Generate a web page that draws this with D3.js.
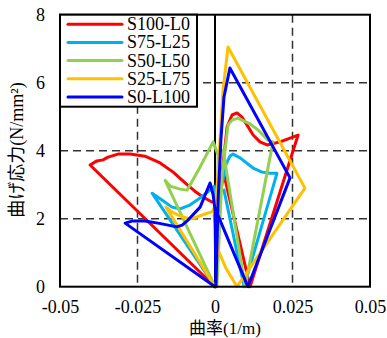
<!DOCTYPE html>
<html><head><meta charset="utf-8">
<script src="https://cdn.jsdelivr.net/npm/d3@7"></script>
<style>body{margin:0;background:#fff}svg{display:block}</style>
</head><body>
<svg id="c" width="387" height="338"></svg>
<script>
const seriesNames = ["S100-L0","S75-L25","S50-L50","S25-L75","S0-L100"];
const seriesColors = ["#FF0000","#00B0F0","#92D050","#FFC000","#0000FF"];
const xTicks = [-0.05,-0.025,0,0.025,0.05];
const xTickLabels = ["-0.05","-0.025","0","0.025","0.05"];
const yTicks = [0,2,4,6,8];
const xTitle = "曲率(1/m)";
const yTitle = "曲げ応力(N/mm²)";

const s100 = [[0,0],[-0.0403,3.58],[-0.0381,3.70],[-0.0361,3.73],[-0.0345,3.81],[-0.0313,3.90],[-0.0274,3.90],[-0.0226,3.84],[-0.0177,3.64],[-0.0135,3.37],[-0.0090,3.0],[-0.0065,2.81],[-0.0039,2.64],[-0.0010,2.49],[0.0013,2.52],[0.0026,3.58],[0.0039,4.70],[0.0055,5.05],[0.0071,5.11],[0.0087,4.99],[0.0103,4.76],[0.0123,4.46],[0.0145,4.26],[0.0168,4.17],[0.0210,4.26],[0.0268,4.46],[0.0113,0],[0.0029,3.29]];
const s75 = [[0,0],[-0.0203,2.75],[-0.0171,2.55],[-0.0139,2.34],[-0.0113,2.29],[-0.0081,2.40],[-0.0048,2.61],[-0.0016,2.84],[-0.0003,2.96],[0.0006,2.26],[0.0019,2.84],[0.0035,3.58],[0.0048,3.84],[0.0058,3.90],[0.0081,3.79],[0.0123,3.49],[0.0152,3.37],[0.0177,3.34],[0.0200,3.34],[0.0094,0],[0.0029,2.84]];
const s50 = [[0,0],[-0.0161,3.13],[-0.0145,2.96],[-0.0113,2.87],[-0.0090,2.84],[-0.0048,3.52],[-0.0006,4.26],[0.0010,3.87],[0.0006,0],[0.0023,3.29],[0.0042,4.76],[0.0055,4.90],[0.0074,4.96],[0.0113,4.79],[0.0139,4.61],[0.0171,4.31],[0.0187,4.26],[0.0097,0],[0.0026,4.02]];
const s25 = [[0,0],[-0.0158,2.34],[-0.0139,2.20],[-0.0113,2.08],[-0.0081,1.99],[-0.0058,2.05],[-0.0032,2.14],[-0.0010,2.20],[0.0003,2.40],[0.0016,4.31],[0.0026,5.79],[0.0042,7.05],[0.0290,2.90],[0.0071,0],[0.0035,0.55],[0.0010,1.08],[-0.0003,2.11]];
const s0 = [[0,0],[-0.0290,1.87],[-0.0268,1.93],[-0.0226,1.93],[-0.0184,1.87],[-0.0123,1.76],[-0.0106,1.81],[-0.0087,1.96],[-0.0048,2.34],[-0.0016,3.05],[-0.0006,2.70],[0,2.26],[0.0003,0],[0.0010,2.55],[0.0019,4.31],[0.0029,5.58],[0.0048,6.43],[0.0242,3.20],[0.0106,0],[0,2.31]];
const seriesData = [s100,s75,s50,s25,s0];

const svg = d3.select("#c");
const L=60, R=370, T=14.7, B=286.7;
const x = d3.scaleLinear().domain([-0.05,0.05]).range([L,R]);
const y = d3.scaleLinear().domain([0,8]).range([B,T]);
const font = "'Liberation Serif','Times New Roman','Noto Sans CJK JP',serif";

// grid
const g = svg.append("g");
g.selectAll(".gx").data([-0.025,0.025]).join("line")
  .attr("x1",d=>x(d)).attr("x2",d=>x(d)).attr("y1",T).attr("y2",B)
  .attr("stroke","#333").attr("stroke-width",1.5).attr("stroke-dasharray","8,5");
g.selectAll(".gy").data([2,4,6]).join("line")
  .attr("x1",L).attr("x2",R).attr("y1",d=>y(d)).attr("y2",d=>y(d))
  .attr("stroke","#333").attr("stroke-width",1.5).attr("stroke-dasharray","8,5");
g.append("line").attr("x1",x(0)).attr("x2",x(0)).attr("y1",T).attr("y2",B)
  .attr("stroke","#000").attr("stroke-width",2);

// axes (labels only)
const xAxis = svg.append("g").attr("transform",`translate(0,${B})`)
  .call(d3.axisBottom(x).tickValues(xTicks).tickFormat((d,i)=>xTickLabels[i]).tickSize(0).tickPadding(14));
const yAxis = svg.append("g").attr("transform",`translate(${L},0)`)
  .call(d3.axisLeft(y).tickValues(yTicks).tickFormat(d3.format("d")).tickSize(0).tickPadding(15));
[xAxis,yAxis].forEach(a=>{
  a.select(".domain").remove();
  a.selectAll("text").attr("font-family",font).attr("font-size",18).attr("fill","#000");
});

// series
const line = d3.line().x(d=>x(d[0])).y(d=>y(d[1]));
svg.append("g").selectAll("path").data(seriesData).join("path")
  .attr("d",line).attr("fill","none")
  .attr("stroke",(d,i)=>seriesColors[i]).attr("stroke-width",3)
  .attr("stroke-linejoin","round").attr("stroke-linecap","round");

// frame
svg.append("rect").attr("x",L).attr("y",T).attr("width",R-L).attr("height",B-T)
  .attr("fill","none").attr("stroke","#000").attr("stroke-width",2);

// legend
const lg = svg.append("g");
lg.append("rect").attr("x",L).attr("y",T).attr("width",137).attr("height",92)
  .attr("fill","#fff").attr("stroke","#000").attr("stroke-width",2);
const rows = lg.selectAll(".r").data(seriesNames).join("g")
  .attr("transform",(d,i)=>`translate(0,${T+9.5+i*18.2})`);
rows.append("line").attr("x1",68).attr("x2",122).attr("y1",0).attr("y2",0)
  .attr("stroke",(d,i)=>seriesColors[i]).attr("stroke-width",3).attr("stroke-linecap","round");
rows.append("text").attr("x",127).attr("y",6).text(d=>d)
  .attr("font-family",font).attr("font-size",18).attr("fill","#000");

// titles
svg.append("text").attr("x",225).attr("y",334).attr("text-anchor","middle")
  .attr("font-family",font).attr("font-size",17).text(xTitle);
svg.append("text").attr("transform","translate(23,150) rotate(-90)").attr("text-anchor","middle")
  .attr("font-family",font).attr("font-size",18).text(yTitle);
</script>
</body></html>
